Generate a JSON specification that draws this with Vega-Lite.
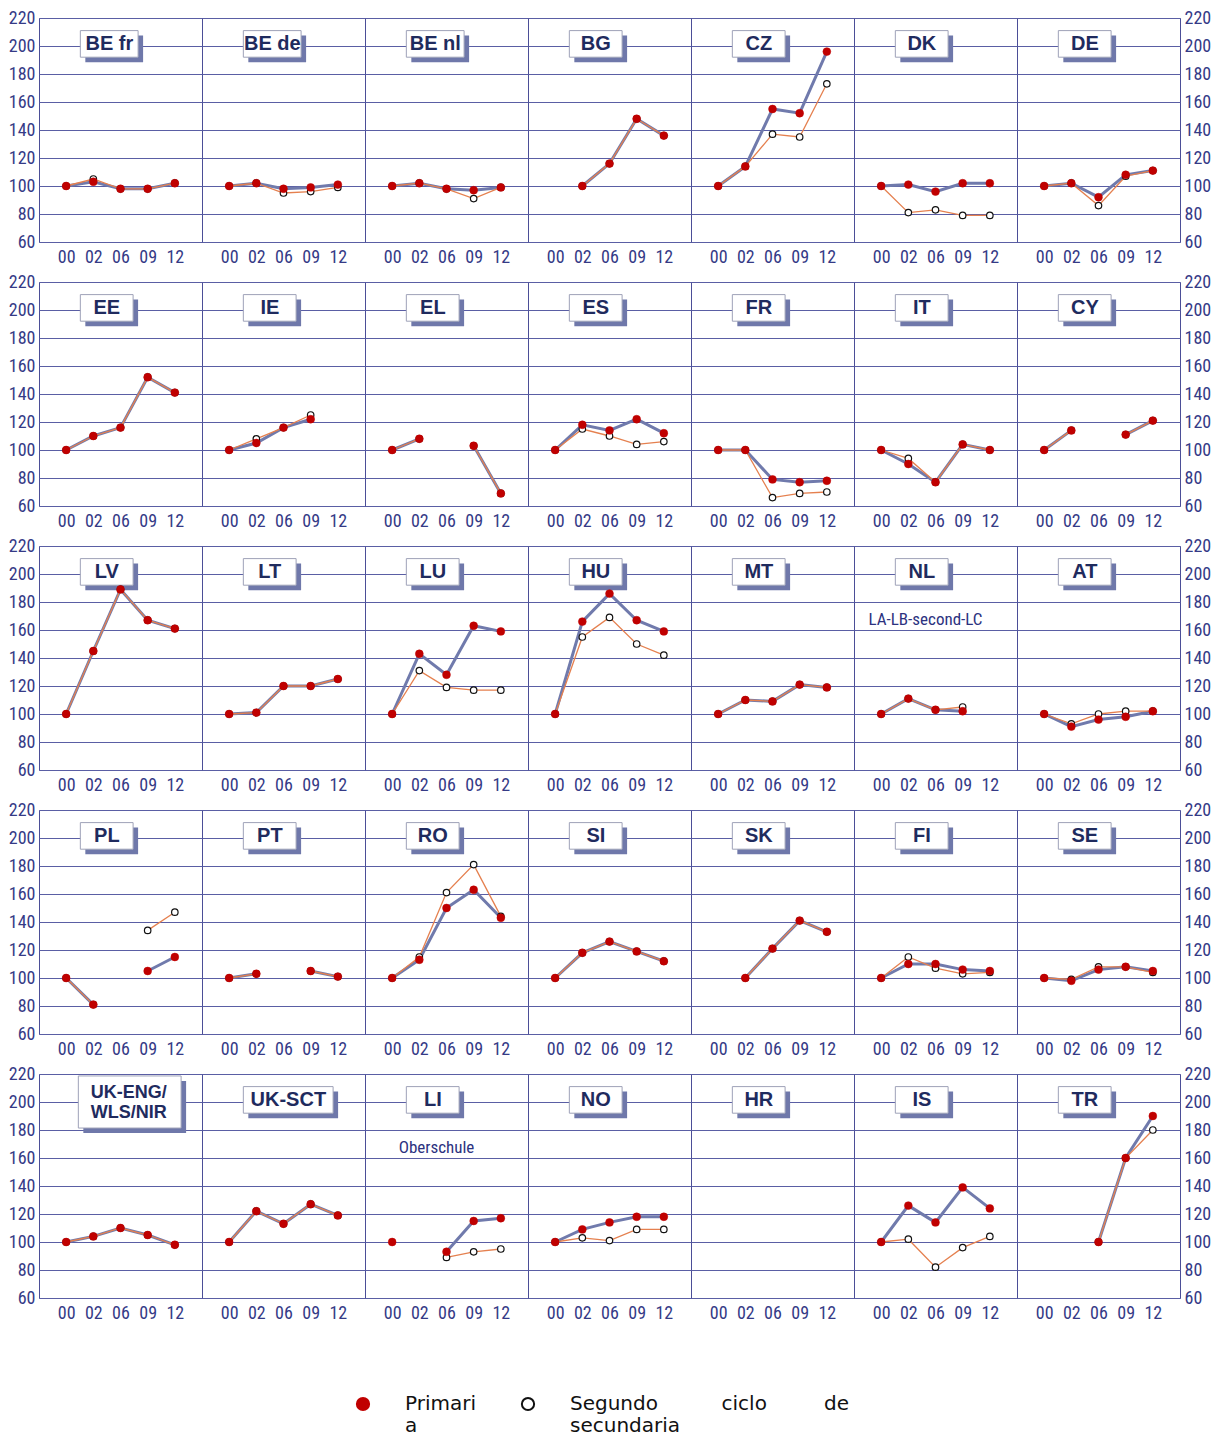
{
  "$schema": "https://vega.github.io/schema/vega-lite/v6.json",
  "padding": {"left": 8, "right": 0, "top": 9, "bottom": 0},
  "background": "white",
  "config": {
    "view": {"stroke": "#4b4e97", "strokeWidth": 1},
    "header": {"labels": false, "title": null, "labelExpr": "''", "labelFontSize": 1, "labelPadding": 0},
    "headerFacet": {"labels": false, "title": null, "labelExpr": "''", "labelFontSize": 1, "labelPadding": 0},
    "axis": {
      "labelFont": "Liberation Sans Narrow, Roboto Condensed, DejaVu Sans Condensed, sans-serif",
      "labelFontSize": 18,
      "labelColor": "#353a86",
      "ticks": false,
      "domain": false,
      "title": null,
      "gridColor": "#5a5ea4",
      "gridOpacity": 1,
      "gridWidth": 1,
      "labelOverlap": false
    }
  },
  "data": {"values": [
    {"country":"BE fr","series":"Primaria","year":"00","value":100},{"country":"BE fr","series":"Primaria","year":"02","value":103},{"country":"BE fr","series":"Primaria","year":"06","value":98},{"country":"BE fr","series":"Primaria","year":"09","value":98},{"country":"BE fr","series":"Primaria","year":"12","value":102},
    {"country":"BE fr","series":"Segundo ciclo de secundaria","year":"00","value":100},{"country":"BE fr","series":"Segundo ciclo de secundaria","year":"02","value":105},{"country":"BE fr","series":"Segundo ciclo de secundaria","year":"06","value":98},{"country":"BE fr","series":"Segundo ciclo de secundaria","year":"09","value":98},{"country":"BE fr","series":"Segundo ciclo de secundaria","year":"12","value":102},
    {"country":"BE de","series":"Primaria","year":"00","value":100},{"country":"BE de","series":"Primaria","year":"02","value":102},{"country":"BE de","series":"Primaria","year":"06","value":98},{"country":"BE de","series":"Primaria","year":"09","value":99},{"country":"BE de","series":"Primaria","year":"12","value":101},
    {"country":"BE de","series":"Segundo ciclo de secundaria","year":"00","value":100},{"country":"BE de","series":"Segundo ciclo de secundaria","year":"02","value":102},{"country":"BE de","series":"Segundo ciclo de secundaria","year":"06","value":95},{"country":"BE de","series":"Segundo ciclo de secundaria","year":"09","value":96},{"country":"BE de","series":"Segundo ciclo de secundaria","year":"12","value":99},
    {"country":"BE nl","series":"Primaria","year":"00","value":100},{"country":"BE nl","series":"Primaria","year":"02","value":102},{"country":"BE nl","series":"Primaria","year":"06","value":98},{"country":"BE nl","series":"Primaria","year":"09","value":97},{"country":"BE nl","series":"Primaria","year":"12","value":99},
    {"country":"BE nl","series":"Segundo ciclo de secundaria","year":"00","value":100},{"country":"BE nl","series":"Segundo ciclo de secundaria","year":"02","value":102},{"country":"BE nl","series":"Segundo ciclo de secundaria","year":"06","value":98},{"country":"BE nl","series":"Segundo ciclo de secundaria","year":"09","value":91},{"country":"BE nl","series":"Segundo ciclo de secundaria","year":"12","value":99},
    {"country":"BG","series":"Primaria","year":"02","value":100},{"country":"BG","series":"Primaria","year":"06","value":116},{"country":"BG","series":"Primaria","year":"09","value":148},{"country":"BG","series":"Primaria","year":"12","value":136},
    {"country":"BG","series":"Segundo ciclo de secundaria","year":"02","value":100},{"country":"BG","series":"Segundo ciclo de secundaria","year":"06","value":116},{"country":"BG","series":"Segundo ciclo de secundaria","year":"09","value":148},{"country":"BG","series":"Segundo ciclo de secundaria","year":"12","value":136},
    {"country":"CZ","series":"Primaria","year":"00","value":100},{"country":"CZ","series":"Primaria","year":"02","value":114},{"country":"CZ","series":"Primaria","year":"06","value":155},{"country":"CZ","series":"Primaria","year":"09","value":152},{"country":"CZ","series":"Primaria","year":"12","value":196},
    {"country":"CZ","series":"Segundo ciclo de secundaria","year":"00","value":100},{"country":"CZ","series":"Segundo ciclo de secundaria","year":"02","value":114},{"country":"CZ","series":"Segundo ciclo de secundaria","year":"06","value":137},{"country":"CZ","series":"Segundo ciclo de secundaria","year":"09","value":135},{"country":"CZ","series":"Segundo ciclo de secundaria","year":"12","value":173},
    {"country":"DK","series":"Primaria","year":"00","value":100},{"country":"DK","series":"Primaria","year":"02","value":101},{"country":"DK","series":"Primaria","year":"06","value":96},{"country":"DK","series":"Primaria","year":"09","value":102},{"country":"DK","series":"Primaria","year":"12","value":102},
    {"country":"DK","series":"Segundo ciclo de secundaria","year":"00","value":100},{"country":"DK","series":"Segundo ciclo de secundaria","year":"02","value":81},{"country":"DK","series":"Segundo ciclo de secundaria","year":"06","value":83},{"country":"DK","series":"Segundo ciclo de secundaria","year":"09","value":79},{"country":"DK","series":"Segundo ciclo de secundaria","year":"12","value":79},
    {"country":"DE","series":"Primaria","year":"00","value":100},{"country":"DE","series":"Primaria","year":"02","value":102},{"country":"DE","series":"Primaria","year":"06","value":92},{"country":"DE","series":"Primaria","year":"09","value":108},{"country":"DE","series":"Primaria","year":"12","value":111},
    {"country":"DE","series":"Segundo ciclo de secundaria","year":"00","value":100},{"country":"DE","series":"Segundo ciclo de secundaria","year":"02","value":102},{"country":"DE","series":"Segundo ciclo de secundaria","year":"06","value":86},{"country":"DE","series":"Segundo ciclo de secundaria","year":"09","value":107},{"country":"DE","series":"Segundo ciclo de secundaria","year":"12","value":111},
    {"country":"EE","series":"Primaria","year":"00","value":100},{"country":"EE","series":"Primaria","year":"02","value":110},{"country":"EE","series":"Primaria","year":"06","value":116},{"country":"EE","series":"Primaria","year":"09","value":152},{"country":"EE","series":"Primaria","year":"12","value":141},
    {"country":"EE","series":"Segundo ciclo de secundaria","year":"00","value":100},{"country":"EE","series":"Segundo ciclo de secundaria","year":"02","value":110},{"country":"EE","series":"Segundo ciclo de secundaria","year":"06","value":116},{"country":"EE","series":"Segundo ciclo de secundaria","year":"09","value":152},{"country":"EE","series":"Segundo ciclo de secundaria","year":"12","value":141},
    {"country":"IE","series":"Primaria","year":"00","value":100},{"country":"IE","series":"Primaria","year":"02","value":105},{"country":"IE","series":"Primaria","year":"06","value":116},{"country":"IE","series":"Primaria","year":"09","value":122},
    {"country":"IE","series":"Segundo ciclo de secundaria","year":"00","value":100},{"country":"IE","series":"Segundo ciclo de secundaria","year":"02","value":108},{"country":"IE","series":"Segundo ciclo de secundaria","year":"06","value":116},{"country":"IE","series":"Segundo ciclo de secundaria","year":"09","value":125},
    {"country":"EL","series":"Primaria","year":"00","value":100},{"country":"EL","series":"Primaria","year":"02","value":108},{"country":"EL","series":"Primaria","year":"06","value":null},{"country":"EL","series":"Primaria","year":"09","value":103},{"country":"EL","series":"Primaria","year":"12","value":69},
    {"country":"EL","series":"Segundo ciclo de secundaria","year":"00","value":100},{"country":"EL","series":"Segundo ciclo de secundaria","year":"02","value":108},{"country":"EL","series":"Segundo ciclo de secundaria","year":"06","value":null},{"country":"EL","series":"Segundo ciclo de secundaria","year":"09","value":103},{"country":"EL","series":"Segundo ciclo de secundaria","year":"12","value":69},
    {"country":"ES","series":"Primaria","year":"00","value":100},{"country":"ES","series":"Primaria","year":"02","value":118},{"country":"ES","series":"Primaria","year":"06","value":114},{"country":"ES","series":"Primaria","year":"09","value":122},{"country":"ES","series":"Primaria","year":"12","value":112},
    {"country":"ES","series":"Segundo ciclo de secundaria","year":"00","value":100},{"country":"ES","series":"Segundo ciclo de secundaria","year":"02","value":115},{"country":"ES","series":"Segundo ciclo de secundaria","year":"06","value":110},{"country":"ES","series":"Segundo ciclo de secundaria","year":"09","value":104},{"country":"ES","series":"Segundo ciclo de secundaria","year":"12","value":106},
    {"country":"FR","series":"Primaria","year":"00","value":100},{"country":"FR","series":"Primaria","year":"02","value":100},{"country":"FR","series":"Primaria","year":"06","value":79},{"country":"FR","series":"Primaria","year":"09","value":77},{"country":"FR","series":"Primaria","year":"12","value":78},
    {"country":"FR","series":"Segundo ciclo de secundaria","year":"00","value":100},{"country":"FR","series":"Segundo ciclo de secundaria","year":"02","value":100},{"country":"FR","series":"Segundo ciclo de secundaria","year":"06","value":66},{"country":"FR","series":"Segundo ciclo de secundaria","year":"09","value":69},{"country":"FR","series":"Segundo ciclo de secundaria","year":"12","value":70},
    {"country":"IT","series":"Primaria","year":"00","value":100},{"country":"IT","series":"Primaria","year":"02","value":90},{"country":"IT","series":"Primaria","year":"06","value":77},{"country":"IT","series":"Primaria","year":"09","value":104},{"country":"IT","series":"Primaria","year":"12","value":100},
    {"country":"IT","series":"Segundo ciclo de secundaria","year":"00","value":100},{"country":"IT","series":"Segundo ciclo de secundaria","year":"02","value":94},{"country":"IT","series":"Segundo ciclo de secundaria","year":"06","value":77},{"country":"IT","series":"Segundo ciclo de secundaria","year":"09","value":104},{"country":"IT","series":"Segundo ciclo de secundaria","year":"12","value":100},
    {"country":"CY","series":"Primaria","year":"00","value":100},{"country":"CY","series":"Primaria","year":"02","value":114},{"country":"CY","series":"Primaria","year":"06","value":null},{"country":"CY","series":"Primaria","year":"09","value":111},{"country":"CY","series":"Primaria","year":"12","value":121},
    {"country":"CY","series":"Segundo ciclo de secundaria","year":"00","value":100},{"country":"CY","series":"Segundo ciclo de secundaria","year":"02","value":114},{"country":"CY","series":"Segundo ciclo de secundaria","year":"06","value":null},{"country":"CY","series":"Segundo ciclo de secundaria","year":"09","value":111},{"country":"CY","series":"Segundo ciclo de secundaria","year":"12","value":121},
    {"country":"LV","series":"Primaria","year":"00","value":100},{"country":"LV","series":"Primaria","year":"02","value":145},{"country":"LV","series":"Primaria","year":"06","value":189},{"country":"LV","series":"Primaria","year":"09","value":167},{"country":"LV","series":"Primaria","year":"12","value":161},
    {"country":"LV","series":"Segundo ciclo de secundaria","year":"00","value":100},{"country":"LV","series":"Segundo ciclo de secundaria","year":"02","value":145},{"country":"LV","series":"Segundo ciclo de secundaria","year":"06","value":189},{"country":"LV","series":"Segundo ciclo de secundaria","year":"09","value":167},{"country":"LV","series":"Segundo ciclo de secundaria","year":"12","value":161},
    {"country":"LT","series":"Primaria","year":"00","value":100},{"country":"LT","series":"Primaria","year":"02","value":101},{"country":"LT","series":"Primaria","year":"06","value":120},{"country":"LT","series":"Primaria","year":"09","value":120},{"country":"LT","series":"Primaria","year":"12","value":125},
    {"country":"LT","series":"Segundo ciclo de secundaria","year":"00","value":100},{"country":"LT","series":"Segundo ciclo de secundaria","year":"02","value":101},{"country":"LT","series":"Segundo ciclo de secundaria","year":"06","value":120},{"country":"LT","series":"Segundo ciclo de secundaria","year":"09","value":120},{"country":"LT","series":"Segundo ciclo de secundaria","year":"12","value":125},
    {"country":"LU","series":"Primaria","year":"00","value":100},{"country":"LU","series":"Primaria","year":"02","value":143},{"country":"LU","series":"Primaria","year":"06","value":128},{"country":"LU","series":"Primaria","year":"09","value":163},{"country":"LU","series":"Primaria","year":"12","value":159},
    {"country":"LU","series":"Segundo ciclo de secundaria","year":"00","value":100},{"country":"LU","series":"Segundo ciclo de secundaria","year":"02","value":131},{"country":"LU","series":"Segundo ciclo de secundaria","year":"06","value":119},{"country":"LU","series":"Segundo ciclo de secundaria","year":"09","value":117},{"country":"LU","series":"Segundo ciclo de secundaria","year":"12","value":117},
    {"country":"HU","series":"Primaria","year":"00","value":100},{"country":"HU","series":"Primaria","year":"02","value":166},{"country":"HU","series":"Primaria","year":"06","value":186},{"country":"HU","series":"Primaria","year":"09","value":167},{"country":"HU","series":"Primaria","year":"12","value":159},
    {"country":"HU","series":"Segundo ciclo de secundaria","year":"00","value":100},{"country":"HU","series":"Segundo ciclo de secundaria","year":"02","value":155},{"country":"HU","series":"Segundo ciclo de secundaria","year":"06","value":169},{"country":"HU","series":"Segundo ciclo de secundaria","year":"09","value":150},{"country":"HU","series":"Segundo ciclo de secundaria","year":"12","value":142},
    {"country":"MT","series":"Primaria","year":"00","value":100},{"country":"MT","series":"Primaria","year":"02","value":110},{"country":"MT","series":"Primaria","year":"06","value":109},{"country":"MT","series":"Primaria","year":"09","value":121},{"country":"MT","series":"Primaria","year":"12","value":119},
    {"country":"MT","series":"Segundo ciclo de secundaria","year":"00","value":100},{"country":"MT","series":"Segundo ciclo de secundaria","year":"02","value":110},{"country":"MT","series":"Segundo ciclo de secundaria","year":"06","value":109},{"country":"MT","series":"Segundo ciclo de secundaria","year":"09","value":121},{"country":"MT","series":"Segundo ciclo de secundaria","year":"12","value":119},
    {"country":"NL","series":"Primaria","year":"00","value":100},{"country":"NL","series":"Primaria","year":"02","value":111},{"country":"NL","series":"Primaria","year":"06","value":103},{"country":"NL","series":"Primaria","year":"09","value":102},
    {"country":"NL","series":"Segundo ciclo de secundaria","year":"00","value":100},{"country":"NL","series":"Segundo ciclo de secundaria","year":"02","value":111},{"country":"NL","series":"Segundo ciclo de secundaria","year":"06","value":103},{"country":"NL","series":"Segundo ciclo de secundaria","year":"09","value":105},
    {"country":"NL","note":"LA-LB-second-LC"},
    {"country":"AT","series":"Primaria","year":"00","value":100},{"country":"AT","series":"Primaria","year":"02","value":91},{"country":"AT","series":"Primaria","year":"06","value":96},{"country":"AT","series":"Primaria","year":"09","value":98},{"country":"AT","series":"Primaria","year":"12","value":102},
    {"country":"AT","series":"Segundo ciclo de secundaria","year":"00","value":100},{"country":"AT","series":"Segundo ciclo de secundaria","year":"02","value":93},{"country":"AT","series":"Segundo ciclo de secundaria","year":"06","value":100},{"country":"AT","series":"Segundo ciclo de secundaria","year":"09","value":102},{"country":"AT","series":"Segundo ciclo de secundaria","year":"12","value":102},
    {"country":"PL","series":"Primaria","year":"00","value":100},{"country":"PL","series":"Primaria","year":"02","value":81},{"country":"PL","series":"Primaria","year":"06","value":null},{"country":"PL","series":"Primaria","year":"09","value":105},{"country":"PL","series":"Primaria","year":"12","value":115},
    {"country":"PL","series":"Segundo ciclo de secundaria","year":"00","value":100},{"country":"PL","series":"Segundo ciclo de secundaria","year":"02","value":81},{"country":"PL","series":"Segundo ciclo de secundaria","year":"06","value":null},{"country":"PL","series":"Segundo ciclo de secundaria","year":"09","value":134},{"country":"PL","series":"Segundo ciclo de secundaria","year":"12","value":147},
    {"country":"PT","series":"Primaria","year":"00","value":100},{"country":"PT","series":"Primaria","year":"02","value":103},{"country":"PT","series":"Primaria","year":"06","value":null},{"country":"PT","series":"Primaria","year":"09","value":105},{"country":"PT","series":"Primaria","year":"12","value":101},
    {"country":"PT","series":"Segundo ciclo de secundaria","year":"00","value":100},{"country":"PT","series":"Segundo ciclo de secundaria","year":"02","value":103},{"country":"PT","series":"Segundo ciclo de secundaria","year":"06","value":null},{"country":"PT","series":"Segundo ciclo de secundaria","year":"09","value":105},{"country":"PT","series":"Segundo ciclo de secundaria","year":"12","value":101},
    {"country":"RO","series":"Primaria","year":"00","value":100},{"country":"RO","series":"Primaria","year":"02","value":113},{"country":"RO","series":"Primaria","year":"06","value":150},{"country":"RO","series":"Primaria","year":"09","value":163},{"country":"RO","series":"Primaria","year":"12","value":143},
    {"country":"RO","series":"Segundo ciclo de secundaria","year":"00","value":100},{"country":"RO","series":"Segundo ciclo de secundaria","year":"02","value":115},{"country":"RO","series":"Segundo ciclo de secundaria","year":"06","value":161},{"country":"RO","series":"Segundo ciclo de secundaria","year":"09","value":181},{"country":"RO","series":"Segundo ciclo de secundaria","year":"12","value":144},
    {"country":"SI","series":"Primaria","year":"00","value":100},{"country":"SI","series":"Primaria","year":"02","value":118},{"country":"SI","series":"Primaria","year":"06","value":126},{"country":"SI","series":"Primaria","year":"09","value":119},{"country":"SI","series":"Primaria","year":"12","value":112},
    {"country":"SI","series":"Segundo ciclo de secundaria","year":"00","value":100},{"country":"SI","series":"Segundo ciclo de secundaria","year":"02","value":118},{"country":"SI","series":"Segundo ciclo de secundaria","year":"06","value":126},{"country":"SI","series":"Segundo ciclo de secundaria","year":"09","value":119},{"country":"SI","series":"Segundo ciclo de secundaria","year":"12","value":112},
    {"country":"SK","series":"Primaria","year":"02","value":100},{"country":"SK","series":"Primaria","year":"06","value":121},{"country":"SK","series":"Primaria","year":"09","value":141},{"country":"SK","series":"Primaria","year":"12","value":133},
    {"country":"SK","series":"Segundo ciclo de secundaria","year":"02","value":100},{"country":"SK","series":"Segundo ciclo de secundaria","year":"06","value":121},{"country":"SK","series":"Segundo ciclo de secundaria","year":"09","value":141},{"country":"SK","series":"Segundo ciclo de secundaria","year":"12","value":133},
    {"country":"FI","series":"Primaria","year":"00","value":100},{"country":"FI","series":"Primaria","year":"02","value":110},{"country":"FI","series":"Primaria","year":"06","value":110},{"country":"FI","series":"Primaria","year":"09","value":106},{"country":"FI","series":"Primaria","year":"12","value":105},
    {"country":"FI","series":"Segundo ciclo de secundaria","year":"00","value":100},{"country":"FI","series":"Segundo ciclo de secundaria","year":"02","value":115},{"country":"FI","series":"Segundo ciclo de secundaria","year":"06","value":107},{"country":"FI","series":"Segundo ciclo de secundaria","year":"09","value":103},{"country":"FI","series":"Segundo ciclo de secundaria","year":"12","value":104},
    {"country":"SE","series":"Primaria","year":"00","value":100},{"country":"SE","series":"Primaria","year":"02","value":98},{"country":"SE","series":"Primaria","year":"06","value":106},{"country":"SE","series":"Primaria","year":"09","value":108},{"country":"SE","series":"Primaria","year":"12","value":105},
    {"country":"SE","series":"Segundo ciclo de secundaria","year":"00","value":100},{"country":"SE","series":"Segundo ciclo de secundaria","year":"02","value":99},{"country":"SE","series":"Segundo ciclo de secundaria","year":"06","value":108},{"country":"SE","series":"Segundo ciclo de secundaria","year":"09","value":108},{"country":"SE","series":"Segundo ciclo de secundaria","year":"12","value":104},
    {"country":"UK-ENG/WLS/NIR","series":"Primaria","year":"00","value":100},{"country":"UK-ENG/WLS/NIR","series":"Primaria","year":"02","value":104},{"country":"UK-ENG/WLS/NIR","series":"Primaria","year":"06","value":110},{"country":"UK-ENG/WLS/NIR","series":"Primaria","year":"09","value":105},{"country":"UK-ENG/WLS/NIR","series":"Primaria","year":"12","value":98},
    {"country":"UK-ENG/WLS/NIR","series":"Segundo ciclo de secundaria","year":"00","value":100},{"country":"UK-ENG/WLS/NIR","series":"Segundo ciclo de secundaria","year":"02","value":104},{"country":"UK-ENG/WLS/NIR","series":"Segundo ciclo de secundaria","year":"06","value":110},{"country":"UK-ENG/WLS/NIR","series":"Segundo ciclo de secundaria","year":"09","value":105},{"country":"UK-ENG/WLS/NIR","series":"Segundo ciclo de secundaria","year":"12","value":98},
    {"country":"UK-SCT","series":"Primaria","year":"00","value":100},{"country":"UK-SCT","series":"Primaria","year":"02","value":122},{"country":"UK-SCT","series":"Primaria","year":"06","value":113},{"country":"UK-SCT","series":"Primaria","year":"09","value":127},{"country":"UK-SCT","series":"Primaria","year":"12","value":119},
    {"country":"UK-SCT","series":"Segundo ciclo de secundaria","year":"00","value":100},{"country":"UK-SCT","series":"Segundo ciclo de secundaria","year":"02","value":122},{"country":"UK-SCT","series":"Segundo ciclo de secundaria","year":"06","value":113},{"country":"UK-SCT","series":"Segundo ciclo de secundaria","year":"09","value":127},{"country":"UK-SCT","series":"Segundo ciclo de secundaria","year":"12","value":119},
    {"country":"LI","series":"Primaria","year":"00","value":100},{"country":"LI","series":"Primaria","year":"02","value":null},{"country":"LI","series":"Primaria","year":"06","value":93},{"country":"LI","series":"Primaria","year":"09","value":115},{"country":"LI","series":"Primaria","year":"12","value":117},
    {"country":"LI","series":"Segundo ciclo de secundaria","year":"06","value":89},{"country":"LI","series":"Segundo ciclo de secundaria","year":"09","value":93},{"country":"LI","series":"Segundo ciclo de secundaria","year":"12","value":95},
    {"country":"LI","note":"Oberschule"},
    {"country":"NO","series":"Primaria","year":"00","value":100},{"country":"NO","series":"Primaria","year":"02","value":109},{"country":"NO","series":"Primaria","year":"06","value":114},{"country":"NO","series":"Primaria","year":"09","value":118},{"country":"NO","series":"Primaria","year":"12","value":118},
    {"country":"NO","series":"Segundo ciclo de secundaria","year":"00","value":100},{"country":"NO","series":"Segundo ciclo de secundaria","year":"02","value":103},{"country":"NO","series":"Segundo ciclo de secundaria","year":"06","value":101},{"country":"NO","series":"Segundo ciclo de secundaria","year":"09","value":109},{"country":"NO","series":"Segundo ciclo de secundaria","year":"12","value":109},
    {"country":"HR","series":"Primaria","year":"00","value":null},
    {"country":"IS","series":"Primaria","year":"00","value":100},{"country":"IS","series":"Primaria","year":"02","value":126},{"country":"IS","series":"Primaria","year":"06","value":114},{"country":"IS","series":"Primaria","year":"09","value":139},{"country":"IS","series":"Primaria","year":"12","value":124},
    {"country":"IS","series":"Segundo ciclo de secundaria","year":"00","value":100},{"country":"IS","series":"Segundo ciclo de secundaria","year":"02","value":102},{"country":"IS","series":"Segundo ciclo de secundaria","year":"06","value":82},{"country":"IS","series":"Segundo ciclo de secundaria","year":"09","value":96},{"country":"IS","series":"Segundo ciclo de secundaria","year":"12","value":104},
    {"country":"TR","series":"Primaria","year":"06","value":100},{"country":"TR","series":"Primaria","year":"09","value":160},{"country":"TR","series":"Primaria","year":"12","value":190},
    {"country":"TR","series":"Segundo ciclo de secundaria","year":"06","value":100},{"country":"TR","series":"Segundo ciclo de secundaria","year":"09","value":160},{"country":"TR","series":"Segundo ciclo de secundaria","year":"12","value":180}
  ]},
  "facet": {
    "field": "country",
    "type": "nominal",
    "title": null,
    "header": {"labels": false, "title": null, "labelExpr": "''", "labelFontSize": 1, "labelPadding": 0},
    "sort": ["BE fr","BE de","BE nl","BG","CZ","DK","DE","EE","IE","EL","ES","FR","IT","CY","LV","LT","LU","HU","MT","NL","AT","PL","PT","RO","SI","SK","FI","SE","UK-ENG/WLS/NIR","UK-SCT","LI","NO","HR","IS","TR"]
  },
  "columns": 7,
  "spacing": {"row": 40, "column": 0},
  "bounds": "flush",
  "resolve": {"axis": {"x": "independent"}},
  "spec": {
    "width": 163,
    "height": 224,
    "resolve": {"axis": {"y": "independent", "x": "independent"}},
    "layer": [
      {
        "transform": [{"filter": "datum.series == 'Primaria'"}],
        "mark": {"type": "line", "stroke": "#707aac", "strokeWidth": 3, "invalid": "break-paths-filter-domains"},
        "encoding": {
          "x": {"field": "year", "type": "ordinal", "scale": {"type": "point", "domain": ["00","02","06","09","12"], "padding": 1}, "axis": {"orient": "bottom", "labelAngle": 0, "labelPadding": 6, "grid": false}},
          "y": {"field": "value", "type": "quantitative", "scale": {"domain": [60, 220], "nice": false, "zero": false}, "axis": {"orient": "left", "values": [60,80,100,120,140,160,180,200,220], "grid": true, "labelPadding": 4}}
        }
      },
      {
        "transform": [{"filter": "datum.series == 'Segundo ciclo de secundaria'"}],
        "mark": {"type": "line", "stroke": "#e5804f", "strokeWidth": 1.3, "invalid": "break-paths-filter-domains"},
        "encoding": {
          "x": {"field": "year", "type": "ordinal", "axis": null},
          "y": {"field": "value", "type": "quantitative", "axis": {"orient": "right", "values": [60,80,100,120,140,160,180,200,220], "grid": false, "labelPadding": 4}}
        }
      },
      {
        "transform": [{"aggregate": [{"op": "count", "as": "n"}], "groupby": ["country"]}, {"filter": "datum.country != 'UK-ENG/WLS/NIR'"}],
        "mark": {"type": "rect", "fill": "#6f78aa",
          "xOffset": -8,
          "x2Offset": {"expr": "5 + (length(datum.country) > 5 ? 49.6 : length(datum.country) > 4 ? 17.6 : 12.6)"},
          "yOffset": 5, "y2Offset": 5},
        "encoding": {
          "x": {"datum": "02", "type": "ordinal", "axis": null},
          "x2": {"datum": "06"},
          "y": {"datum": 211, "type": "quantitative", "axis": null},
          "y2": {"datum": 192}
        }
      },
      {
        "transform": [{"aggregate": [{"op": "count", "as": "n"}], "groupby": ["country"]}, {"filter": "datum.country != 'UK-ENG/WLS/NIR'"}],
        "mark": {"type": "rect", "fill": "white", "stroke": "#9ea2b8", "strokeWidth": 1,
          "xOffset": -13,
          "x2Offset": {"expr": "length(datum.country) > 5 ? 49.6 : length(datum.country) > 4 ? 17.6 : 12.6"}},
        "encoding": {
          "x": {"datum": "02", "type": "ordinal", "axis": null},
          "x2": {"datum": "06"},
          "y": {"datum": 211, "type": "quantitative", "axis": null},
          "y2": {"datum": 192}
        }
      },
      {
        "transform": [{"aggregate": [{"op": "count", "as": "n"}], "groupby": ["country"]}, {"filter": "datum.country != 'UK-ENG/WLS/NIR'"}],
        "mark": {"type": "text", "font": "Liberation Sans", "fontWeight": "bold", "fontSize": 20, "fill": "#1f2b5e", "align": "center", "baseline": "middle",
          "xOffset": {"expr": "-13 + (length(datum.country) > 5 ? 45 : length(datum.country) > 4 ? 29 : 26.5)"}},
        "encoding": {
          "x": {"datum": "02", "type": "ordinal", "axis": null},
          "y": {"datum": 201.5, "type": "quantitative", "axis": null},
          "text": {"field": "country"}
        }
      },
      {
        "transform": [{"filter": "datum.country == 'UK-ENG/WLS/NIR' && datum.year == '00' && datum.series == 'Primaria'"}],
        "mark": {"type": "rect", "fill": "#6f78aa", "xOffset": -10, "x2Offset": 65.6, "yOffset": 5, "y2Offset": 5},
        "encoding": {
          "x": {"datum": "02", "type": "ordinal", "axis": null},
          "x2": {"datum": "06"},
          "y": {"datum": 218.6, "type": "quantitative", "axis": null},
          "y2": {"datum": 181.4}
        }
      },
      {
        "transform": [{"filter": "datum.country == 'UK-ENG/WLS/NIR' && datum.year == '00' && datum.series == 'Primaria'"}],
        "mark": {"type": "rect", "fill": "white", "stroke": "#9ea2b8", "strokeWidth": 1, "xOffset": -15, "x2Offset": 60.6},
        "encoding": {
          "x": {"datum": "02", "type": "ordinal", "axis": null},
          "x2": {"datum": "06"},
          "y": {"datum": 218.6, "type": "quantitative", "axis": null},
          "y2": {"datum": 181.4}
        }
      },
      {
        "transform": [{"filter": "datum.country == 'UK-ENG/WLS/NIR' && datum.year == '00' && datum.series == 'Primaria'"}],
        "mark": {"type": "text", "font": "Liberation Sans", "fontWeight": "bold", "fontSize": 18, "lineHeight": 20, "fill": "#1f2b5e", "align": "center", "baseline": "middle", "xOffset": 35.5},
        "encoding": {
          "x": {"datum": "02", "type": "ordinal", "axis": null},
          "y": {"datum": 206.5, "type": "quantitative", "axis": null},
          "text": {"value": ["UK-ENG/", "WLS/NIR"]}
        }
      },
      {
        "transform": [{"filter": "isValid(datum.note)"}],
        "mark": {"type": "text", "font": "Liberation Sans Narrow, Roboto Condensed, DejaVu Sans Condensed, sans-serif", "fontSize": 17, "fill": "#2c3280", "align": "center", "baseline": "middle", "xOffset": -10},
        "encoding": {
          "x": {"datum": "06", "type": "ordinal", "axis": null},
          "y": {"datum": 167.5, "type": "quantitative", "axis": null},
          "text": {"field": "note"}
        }
      },
      {
        "transform": [{"filter": "datum.series == 'Segundo ciclo de secundaria'"}],
        "mark": {"type": "circle", "size": 42, "strokeWidth": 1.2, "opacity": 1},
        "encoding": {
          "x": {"field": "year", "type": "ordinal", "axis": null},
          "y": {"field": "value", "type": "quantitative", "axis": null},
          "fill": {"field": "series", "type": "nominal", "scale": {"domain": ["Primaria", "Segundo ciclo de secundaria"], "range": ["#c00000", "white"]},
            "legend": {"orient": "none", "legendX": 314, "legendY": 1376, "direction": "horizontal", "title": null, "labelFont": "DejaVu Sans", "labelFontSize": 20, "labelColor": "#111111", "symbolSize": 150, "symbolStrokeWidth": 2, "labelOffset": 32, "columnPadding": 40, "labelLimit": 500,
              "labelExpr": "datum.label == 'Primaria' ? ['Primari', 'a'] : ['Segundo\u00a0\u00a0\u00a0\u00a0\u00a0\u00a0\u00a0\u00a0\u00a0\u00a0ciclo\u00a0\u00a0\u00a0\u00a0\u00a0\u00a0\u00a0\u00a0\u00a0de', 'secundaria']"}},
          "stroke": {"field": "series", "type": "nominal", "scale": {"domain": ["Primaria", "Segundo ciclo de secundaria"], "range": ["#c00000", "#111111"]}}
        }
      },
      {
        "transform": [{"filter": "datum.series == 'Primaria'"}],
        "mark": {"type": "circle", "size": 62, "strokeWidth": 0.5, "opacity": 1},
        "encoding": {
          "x": {"field": "year", "type": "ordinal", "axis": null},
          "y": {"field": "value", "type": "quantitative", "axis": null},
          "fill": {"field": "series", "type": "nominal"},
          "stroke": {"field": "series", "type": "nominal"}
        }
      }
    ]
  }
}
